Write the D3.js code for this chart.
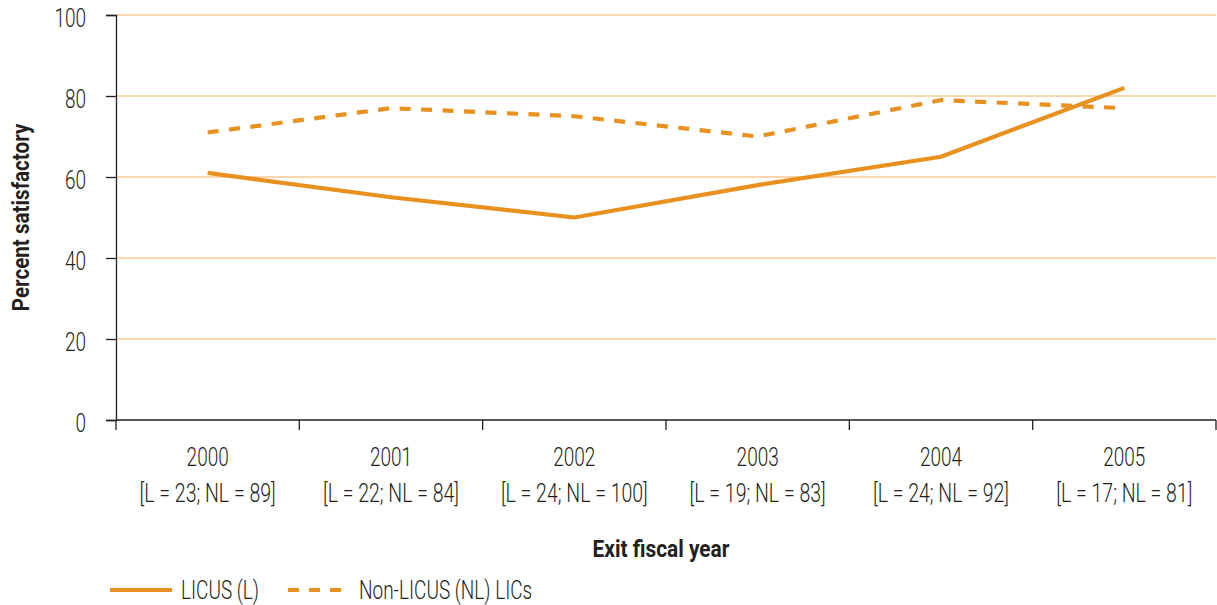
<!DOCTYPE html>
<html>
<head>
<meta charset="utf-8">
<script src="https://cdn.jsdelivr.net/npm/d3@7"></script>
<style>
  body { margin: 0; background: #fff; }
  text { font-family: "Roboto", "Liberation Sans", sans-serif; fill: #231f20; }
</style>
</head>
<body>
<div id="container"></div>
<script>
/* CONSTANTS AND GLOBALS */
const width = 1217,
      height = 605,
      margin = {top: 15, left: 116, bottom: 185, right: 1};

const orange = "#e8911f",
      gridColor = "#f7c995",
      ink = "#231f20";

/* DATA */
const years = ["2000", "2001", "2002", "2003", "2004", "2005"];
const sampleLabels = ["[L = 23; NL = 89]", "[L = 22; NL = 84]", "[L = 24; NL = 100]",
                      "[L = 19; NL = 83]", "[L = 24; NL = 92]", "[L = 17; NL = 81]"];
const licus = [61, 55, 50, 58, 65, 82];
const nonLicus = [71, 77, 75, 70, 79, 77];
const yTicks = [0, 20, 40, 60, 80, 100];

const seriesList = [
  {name: "LICUS (L)", values: licus, dash: null},
  {name: "Non-LICUS (NL) LICs", values: nonLicus, dash: "11,10.5"}
];

// condensed-looking text: draw at a point, squeeze horizontally
function label(parent, x, y, str, opts = {}) {
  const size = opts.size || 25,
        sx = opts.sx || 0.76,
        rot = opts.rotate || 0;
  return parent.append("text")
    .attr("transform", `translate(${x},${y}) rotate(${rot}) scale(${sx},1)`)
    .attr("text-anchor", opts.anchor || "middle")
    .attr("font-size", size)
    .attr("font-weight", opts.weight || 300)
    .text(str);
}

// SCALES
const xScale = d3.scaleBand()
                 .domain(years)
                 .range([margin.left, width - margin.right]);

const yScale = d3.scaleLinear()
                 .domain([0, 100])
                 .range([height - margin.bottom, margin.top]);

// CREATE SVG ELEMENT
const svg = d3.select("#container")
              .append("svg")
              .attr("width", width)
              .attr("height", height);

// GRIDLINES
svg.append("g")
   .selectAll("line")
   .data(yTicks.filter(d => d > 0))
   .join("line")
   .attr("x1", margin.left)
   .attr("x2", width - margin.right)
   .attr("y1", d => yScale(d))
   .attr("y2", d => yScale(d))
   .attr("stroke", gridColor)
   .attr("stroke-width", 1.3);

// Y AXIS (labels drawn by hand so they can be condensed)
const yAxis = d3.axisLeft(yScale).tickValues(yTicks).tickSize(10).tickFormat("");
const yG = svg.append("g")
   .attr("transform", `translate(${margin.left},0)`)
   .call(yAxis);
yG.select(".domain").attr("stroke", ink).attr("stroke-width", 1.3);
yG.selectAll(".tick line").attr("stroke", ink).attr("stroke-width", 1.3);
yTicks.forEach(t => label(svg, 86, yScale(t) + 12, String(t), {anchor: "end"}));

// X AXIS: ticks at band boundaries
const xG = svg.append("g").attr("transform", `translate(0,${yScale(0)})`);
xG.append("line")
  .attr("x1", margin.left).attr("x2", width - margin.right)
  .attr("stroke", ink).attr("stroke-width", 1.3);
const boundaries = years.map(d => xScale(d)).concat([xScale(years[years.length - 1]) + xScale.bandwidth()]);
xG.selectAll("line.tick")
  .data(boundaries)
  .join("line")
  .attr("class", "tick")
  .attr("x1", d => d).attr("x2", d => d)
  .attr("y1", 0).attr("y2", 10)
  .attr("stroke", ink).attr("stroke-width", 1.3);

years.forEach((d, i) => {
  const cx = xScale(d) + xScale.bandwidth() / 2;
  label(svg, cx, 466, d);
  label(svg, cx, 502, sampleLabels[i], {sx: 0.78});
});

// AXIS TITLES
label(svg, 661, 557, "Exit fiscal year", {weight: "bold", sx: 0.87, size: 24});
label(svg, 29, (yScale(0) + yScale(100)) / 2, "Percent satisfactory",
      {weight: "bold", sx: 0.86, size: 24, rotate: -90});

// LINE GENERATOR FUNCTION
const lineGen = d3.line()
                  .x((d, i) => xScale(years[i]) + xScale.bandwidth() / 2)
                  .y(d => yScale(d));

// DRAW LINES
svg.selectAll("path.line")
   .data(seriesList)
   .join("path")
   .attr("class", "line")
   .attr("fill", "none")
   .attr("stroke", orange)
   .attr("stroke-width", 4.2)
   .attr("stroke-dasharray", d => d.dash)
   .attr("d", d => lineGen(d.values));

// LEGEND
const legend = svg.append("g").attr("transform", "translate(0,590)");
const legendItems = [
  {x: 110, len: 62, textX: 181, s: seriesList[0]},
  {x: 288, len: 53, textX: 359, s: seriesList[1]}
];
legendItems.forEach(item => {
  legend.append("line")
        .attr("x1", item.x).attr("x2", item.x + item.len)
        .attr("y1", 0).attr("y2", 0)
        .attr("stroke", orange)
        .attr("stroke-width", 4.2)
        .attr("stroke-dasharray", item.s.dash ? "11,10" : null);
  label(legend, item.textX, 9, item.s.name, {anchor: "start"});
});
</script>
</body>
</html>
